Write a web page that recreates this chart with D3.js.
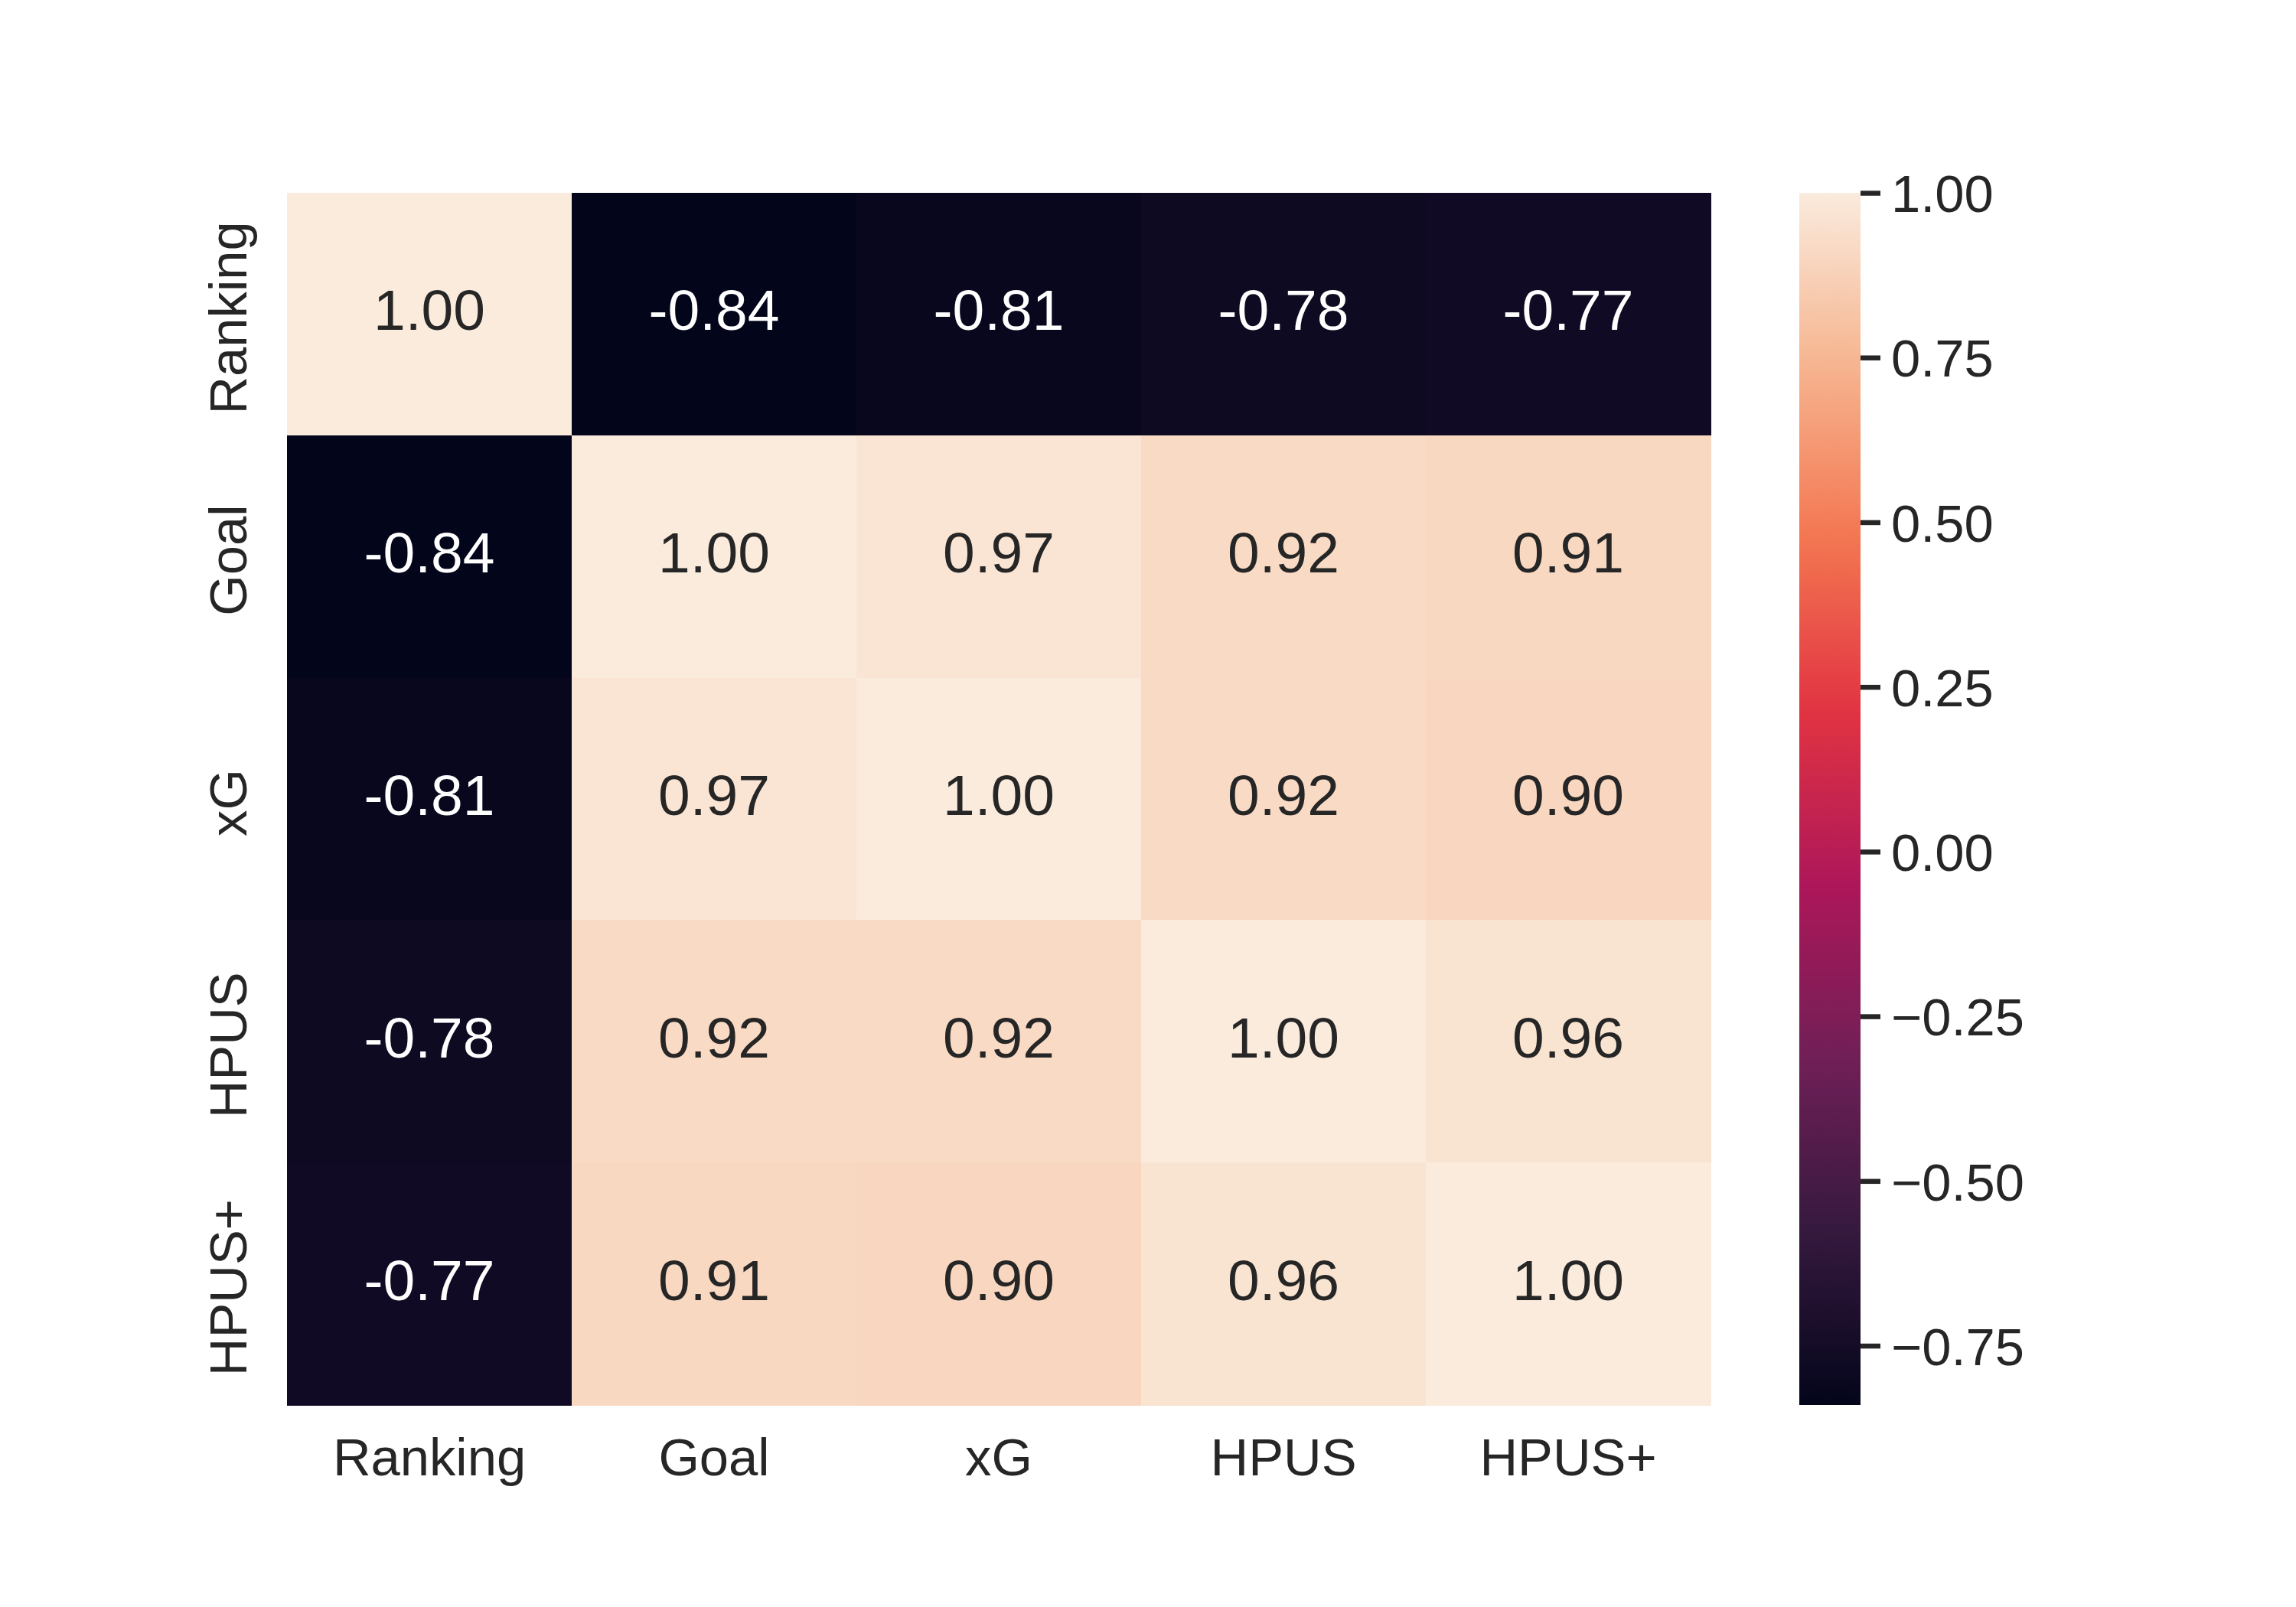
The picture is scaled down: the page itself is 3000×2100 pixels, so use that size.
<!DOCTYPE html>
<html>
<head>
<meta charset="utf-8">
<script src="https://cdn.jsdelivr.net/npm/d3@7"></script>
<style>
  html, body { margin: 0; padding: 0; background: #ffffff; }
  svg { display: block; }
  text { font-family: "Liberation Sans", Arial, sans-serif; }
</style>
</head>
<body>
<script>
// ---- data ----
const labels = ["Ranking", "Goal", "xG", "HPUS", "HPUS+"];
const rowRanking = [1.00, -0.84, -0.81, -0.78, -0.77];
const rowGoal    = [-0.84, 1.00, 0.97, 0.92, 0.91];
const rowXG      = [-0.81, 0.97, 1.00, 0.92, 0.90];
const rowHPUS    = [-0.78, 0.92, 0.92, 1.00, 0.96];
const rowHPUSp   = [-0.77, 0.91, 0.90, 0.96, 1.00];
const matrix = [rowRanking, rowGoal, rowXG, rowHPUS, rowHPUSp];
const colorbarTicks = [-0.75, -0.50, -0.25, 0.00, 0.25, 0.50, 0.75, 1.00];
const vmin = -0.84, vmax = 1.00;
// seaborn "rocket" palette stops
const rocketStops = ["#03051a", "#35193e", "#701f57", "#ad1759", "#e13342", "#f37651", "#f6b48f", "#faebdd"];
const rocketPos   = [0, 1/7, 2/7, 3/7, 4/7, 5/7, 6/7, 1];

// ---- layout ----
const W = 3000, H = 2100;
const hm = { left: 375, right: 2235, top: 252, bottom: 1836 };
const cb = { left: 2351, right: 2431 };
const textDark = "#262626";

const rocket = d3.scaleLinear().domain(rocketPos).range(rocketStops).interpolate(d3.interpolateRgb).clamp(true);
const norm = d3.scaleLinear().domain([vmin, vmax]).range([0, 1]).clamp(true);
const color = v => rocket(norm(v));

const x = d3.scaleBand().domain(labels).range([hm.left, hm.right]).paddingInner(0).paddingOuter(0);
const y = d3.scaleBand().domain(labels).range([hm.top, hm.bottom]).paddingInner(0).paddingOuter(0);

const svg = d3.select("body").append("svg").attr("width", W).attr("height", H)
  .attr("viewBox", `0 0 ${W} ${H}`);
svg.append("rect").attr("width", W).attr("height", H).attr("fill", "#ffffff");

const cells = [];
matrix.forEach((row, i) => row.forEach((v, j) => cells.push({ r: labels[i], c: labels[j], v })));

function lum(hex) {
  const c = d3.rgb(hex);
  const f = u => { u /= 255; return u <= 0.03928 ? u / 12.92 : Math.pow((u + 0.055) / 1.055, 2.4); };
  return 0.2126 * f(c.r) + 0.7152 * f(c.g) + 0.0722 * f(c.b);
}

const g = svg.append("g");
g.selectAll("rect.cell").data(cells).join("rect")
  .attr("class", "cell")
  .attr("x", d => x(d.c))
  .attr("y", d => y(d.r))
  .attr("width", x.bandwidth() + 0.5)
  .attr("height", y.bandwidth() + 0.5)
  .attr("fill", d => color(d.v))
  .attr("shape-rendering", "crispEdges");

g.selectAll("text.annot").data(cells).join("text")
  .attr("class", "annot")
  .attr("x", d => x(d.c) + x.bandwidth() / 2)
  .attr("y", d => y(d.r) + y.bandwidth() / 2)
  .attr("dy", "0.28em")
  .attr("text-anchor", "middle")
  .attr("font-size", 75)
  .attr("fill", d => lum(color(d.v)) < 0.408 ? "#ffffff" : textDark)
  .text(d => d.v.toFixed(2));

// x tick labels
const xAxis = d3.axisBottom(x).tickSize(0).tickPadding(0);
const gx = svg.append("g").attr("transform", `translate(0,${hm.bottom})`).call(xAxis);
gx.select(".domain").remove();
gx.selectAll("text")
  .attr("y", 92).attr("dy", 0)
  .attr("font-size", 68.75)
  .attr("fill", textDark)
  .attr("font-family", "Liberation Sans, Arial, sans-serif");

// y tick labels (rotated)
const yAxis = d3.axisLeft(y).tickSize(0).tickPadding(0);
const gy = svg.append("g").attr("transform", `translate(${hm.left},0)`).call(yAxis);
gy.select(".domain").remove();
gy.selectAll(".tick text")
  .attr("x", 0).attr("dy", 0).attr("y", 0)
  .attr("text-anchor", "middle")
  .attr("transform", "translate(-53,5) rotate(-90)")
  .attr("font-size", 68.75)
  .attr("fill", textDark)
  .attr("font-family", "Liberation Sans, Arial, sans-serif");

// colorbar
const cy = d3.scaleLinear().domain([vmin, vmax]).range([hm.bottom, hm.top]);
const defs = svg.append("defs");
const grad = defs.append("linearGradient").attr("id", "cbgrad")
  .attr("x1", 0).attr("y1", 1).attr("x2", 0).attr("y2", 0);
d3.range(0, 101).forEach(k => {
  const t = k / 100;
  grad.append("stop").attr("offset", t).attr("stop-color", rocket(t));
});
svg.append("rect")
  .attr("x", cb.left).attr("y", cy(vmax))
  .attr("width", cb.right - cb.left)
  .attr("height", cy(vmin) - cy(vmax))
  .attr("fill", "url(#cbgrad)");

const fmt = v => d3.format(".2f")(v).replace("-", "\u2212");
const cAxis = d3.axisRight(cy).tickValues(colorbarTicks).tickFormat(fmt).tickSize(26).tickPadding(14);
const gc = svg.append("g").attr("transform", `translate(${cb.right},0)`).call(cAxis);
gc.select(".domain").remove();
gc.selectAll(".tick line").attr("stroke", textDark).attr("stroke-width", 6.5);
gc.selectAll(".tick text")
  .attr("dy", "0.36em")
  .attr("font-size", 68.75)
  .attr("fill", textDark)
  .attr("font-family", "Liberation Sans, Arial, sans-serif");
</script>
</body>
</html>
